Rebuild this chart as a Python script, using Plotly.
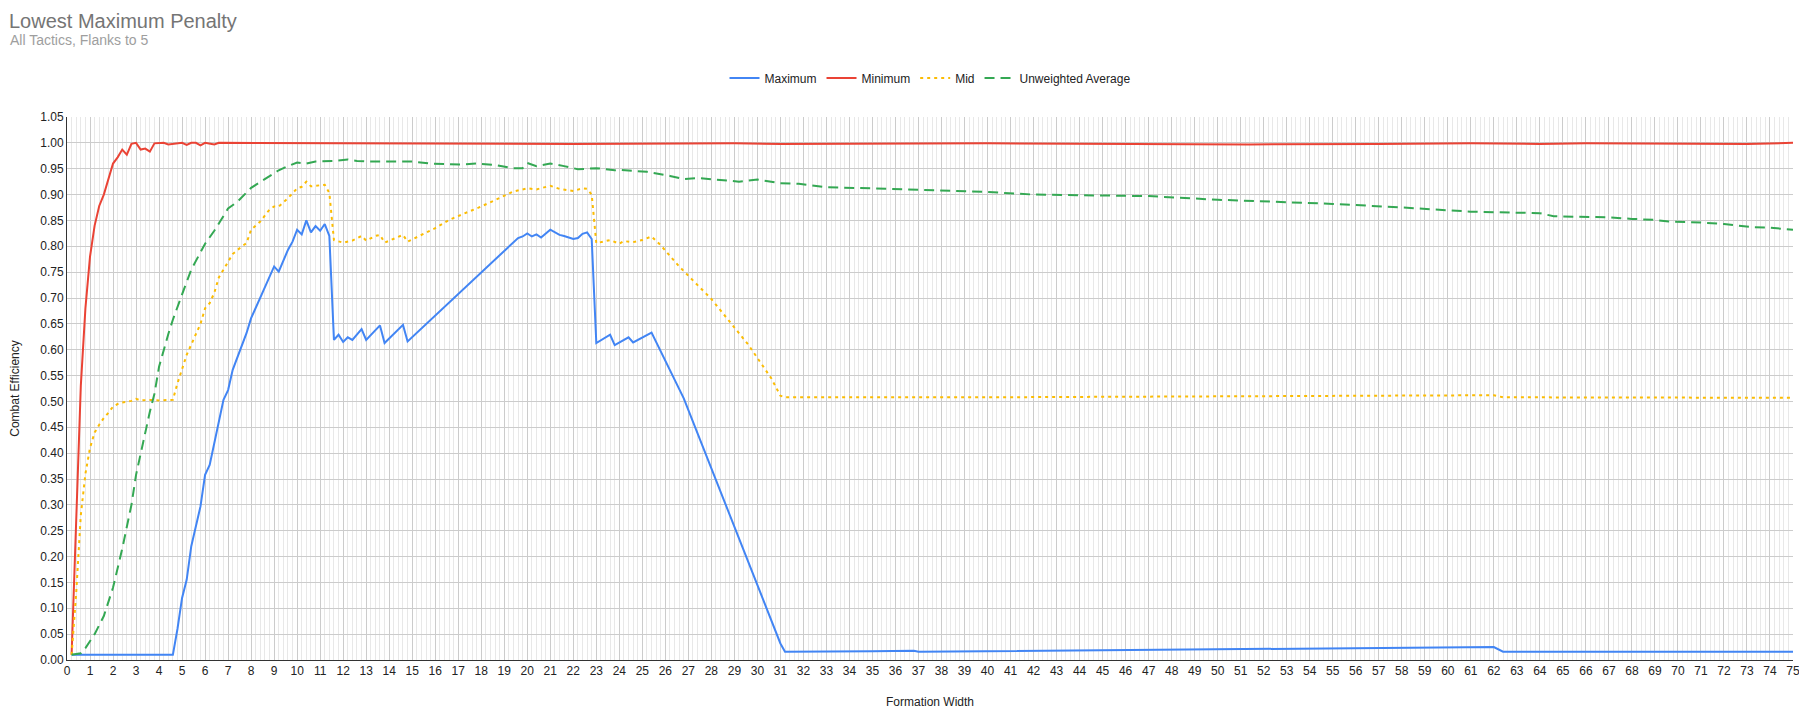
import plotly.graph_objects as go

# ---------------- data ----------------
max_x = [0.2, 4.6, 4.8, 5.0, 5.2, 5.4, 5.8, 6.0, 6.2, 6.6, 6.8, 7.0, 7.2, 7.8, 8.0, 9.0, 9.2, 9.6, 9.8,
         10.0, 10.2, 10.4, 10.6, 10.8, 11.0, 11.2, 11.4, 11.6, 11.8, 12.0, 12.2, 12.4, 12.8, 13.0, 13.6,
         13.8, 14.6, 14.8, 19.6, 19.8, 20.0, 20.2, 20.4, 20.6, 21.0, 21.4, 21.6, 22.0, 22.2, 22.4, 22.6,
         22.8, 23.0, 23.6, 23.8, 24.4, 24.6, 25.4, 26.8, 31.0, 31.2, 35, 36.8, 37.0, 40, 45, 50, 55, 58,
         62, 62.4, 75]
max_y = [0.01, 0.01, 0.06, 0.12, 0.155, 0.22, 0.297, 0.358, 0.377, 0.458, 0.503, 0.522, 0.561, 0.632,
         0.661, 0.761, 0.751, 0.793, 0.809, 0.832, 0.823, 0.850, 0.827, 0.839, 0.830, 0.843, 0.820, 0.619,
         0.629, 0.615, 0.624, 0.619, 0.640, 0.619, 0.647, 0.613, 0.648, 0.616, 0.816, 0.819, 0.825, 0.819,
         0.823, 0.817, 0.832, 0.822, 0.820, 0.814, 0.816, 0.824, 0.827, 0.814, 0.613, 0.629, 0.609, 0.624,
         0.614, 0.633, 0.506, 0.032, 0.016, 0.017, 0.018, 0.016, 0.017, 0.019, 0.021, 0.023, 0.024, 0.025,
         0.016, 0.016]

min_x = [0.2, 0.4, 0.6, 0.8, 1.0, 1.2, 1.4, 1.6, 1.8, 2.0, 2.2, 2.4, 2.6, 2.8, 3.0, 3.2, 3.4, 3.6, 3.8,
         4.0, 4.2, 4.4, 4.6, 4.8, 5.0, 5.2, 5.4, 5.6, 5.8, 6.0, 6.2, 6.4, 6.6, 18.6, 22.0, 29.0, 31.0,
         40.0, 46.0, 51.4, 57.0, 61.0, 64.0, 66.0, 73.0, 75.0]
min_y = [0.01, 0.26, 0.53, 0.68, 0.78, 0.84, 0.878, 0.90, 0.93, 0.96, 0.972, 0.987, 0.977, 0.998, 1.0,
         0.987, 0.989, 0.983, 0.999, 1.0, 1.0, 0.997, 0.998, 1.0, 1.0, 0.996, 1.0, 1.0, 0.995, 1.0, 0.998,
         0.997, 1.0, 0.999, 0.998, 0.999, 0.998, 0.999, 0.998, 0.997, 0.998, 0.999, 0.998, 0.999, 0.998,
         1.0]

mid_x = [0.2, 0.4, 0.6, 0.8, 1.0, 1.2, 1.4, 1.6, 1.8, 2.0, 2.2, 2.4, 2.8, 3.0, 3.2, 3.6, 4.0, 4.6, 4.8,
         5.2, 5.6, 5.8, 6.0, 6.2, 6.4, 6.6, 7.0, 7.2, 7.6, 7.8, 8.0, 8.4, 8.8, 9.0, 9.2, 9.6, 10.0, 10.2,
         10.4, 10.6, 11.2, 11.4, 11.6, 12.0, 12.4, 12.8, 13.0, 13.4, 13.6, 13.8, 14.6, 14.8, 16.0, 16.6,
         18.0, 19.4, 20.0, 20.4, 21.0, 21.4, 22.0, 22.4, 22.6, 22.8, 23.0, 23.6, 24.0, 24.2, 24.6, 25.0,
         25.4, 25.8, 26.6, 28.0, 29.6, 30.6, 31.0, 31.2, 40, 50, 57, 62, 62.4, 75]
mid_y = [0.01, 0.13, 0.28, 0.36, 0.41, 0.44, 0.455, 0.468, 0.478, 0.49, 0.495, 0.498, 0.501, 0.505,
         0.502, 0.503, 0.502, 0.503, 0.535, 0.59, 0.63, 0.65, 0.68, 0.69, 0.71, 0.74, 0.77, 0.785, 0.80,
         0.806, 0.832, 0.848, 0.871, 0.877, 0.877, 0.893, 0.912, 0.915, 0.925, 0.916, 0.919, 0.903, 0.812,
         0.807, 0.811, 0.82, 0.811, 0.82, 0.822, 0.807, 0.822, 0.809, 0.835, 0.851, 0.877, 0.906, 0.912,
         0.91, 0.917, 0.911, 0.907, 0.912, 0.911, 0.90, 0.806, 0.812, 0.805, 0.81, 0.808, 0.812, 0.819,
         0.802, 0.761, 0.698, 0.61, 0.545, 0.511, 0.508, 0.508, 0.51, 0.512, 0.512, 0.508, 0.507]

avg_x = [0.2, 0.6, 0.8, 1.2, 1.6, 2.0, 2.4, 2.8, 3.0, 3.2, 3.6, 3.8, 4.0, 4.4, 4.6, 5.0, 5.4, 6.0, 6.4,
         7.0, 7.4, 8.0, 8.6, 9.2, 9.6, 10.0, 10.4, 10.8, 11.6, 12.2, 12.6, 13.0, 15.0, 15.8, 17.2, 17.8,
         18.6, 19.4, 19.8, 20.0, 20.4, 21.0, 21.6, 22.2, 23.0, 23.8, 24.0, 25.2, 26.2, 26.8, 27.4, 28.0,
         29.2, 30.0, 31.0, 31.8, 33.0, 35, 38, 40, 42, 45, 47, 50, 53, 55, 58, 60, 61, 63, 64, 64.6, 67,
         68, 69, 69.6, 71, 72, 73.2, 74, 75]
avg_y = [0.01, 0.013, 0.023, 0.05, 0.085, 0.14, 0.215, 0.30, 0.358, 0.40, 0.48, 0.515, 0.567, 0.63,
         0.658, 0.707, 0.755, 0.805, 0.83, 0.873, 0.886, 0.913, 0.93, 0.947, 0.955, 0.962, 0.96, 0.964,
         0.965, 0.968, 0.965, 0.964, 0.964, 0.96, 0.958, 0.96, 0.957, 0.951, 0.951, 0.961, 0.955, 0.96,
         0.955, 0.949, 0.951, 0.947, 0.948, 0.944, 0.936, 0.93, 0.932, 0.93, 0.925, 0.929, 0.922, 0.921,
         0.914, 0.912, 0.908, 0.905, 0.90, 0.898, 0.897, 0.89, 0.886, 0.882, 0.875, 0.87, 0.867, 0.865,
         0.864, 0.858, 0.856, 0.853, 0.851, 0.848, 0.846, 0.843, 0.837, 0.836, 0.832]

x_ticks = list(range(0, 76))
y_ticks = [round(i * 0.05, 2) for i in range(0, 22)]

# ---------------- figure ----------------
FONT = "Arial, 'Liberation Sans', sans-serif"
W, H = 1799, 708          # page body has an 8px default margin
L, R, T, B = 59, 14, 109, 56
PW, PH = W - L - R, H - T - B

fig = go.Figure()
fig.add_trace(go.Scatter(x=max_x, y=max_y, name="Maximum", mode="lines",
                         line=dict(color="#4285F4", width=2)))
fig.add_trace(go.Scatter(x=min_x, y=min_y, name="Minimum", mode="lines",
                         line=dict(color="#EA4335", width=2)))
fig.add_trace(go.Scatter(x=mid_x, y=mid_y, name="Mid", mode="lines",
                         line=dict(color="#FBBC04", width=2, dash="3px,4px")))
fig.add_trace(go.Scatter(x=avg_x, y=avg_y, name="Unweighted Average", mode="lines",
                         line=dict(color="#34A853", width=2, dash="10px,6px")))

fig.update_layout(
    width=W, height=H,
    paper_bgcolor="white", plot_bgcolor="white",
    margin=dict(l=L, r=R, t=T, b=B, autoexpand=False),
    font=dict(family=FONT, size=12, color="#222222"),
    showlegend=True,
    legend=dict(orientation="h", x=0.5, xanchor="center", y=1 + (117 - 78) / PH, yanchor="middle",
                font=dict(size=12, color="#222222"), itemwidth=30, bgcolor="rgba(0,0,0,0)"),
    xaxis=dict(range=[0, 75], tickmode="array", tickvals=x_ticks,
               ticktext=[str(v) for v in x_ticks], showgrid=True, gridcolor="#cccccc",
               gridwidth=1, zeroline=False, showline=True, linecolor="#333333", linewidth=1,
               ticks="", tickfont=dict(size=12, color="#222222"),
               minor=dict(dtick=0.2, showgrid=True, gridcolor="#e8e8e8", gridwidth=1),
               title=dict(text="Formation Width", font=dict(size=12, color="#222222"), standoff=20)),
    yaxis=dict(range=[0, 1.05], tickmode="array", tickvals=y_ticks,
               ticktext=[f"{v:.2f}" for v in y_ticks], showgrid=True, gridcolor="#cccccc",
               gridwidth=1, zeroline=False, showline=True, linecolor="#333333", linewidth=1,
               ticks="", tickfont=dict(size=12, color="#222222"),
               title=dict(text="Combat Efficiency", font=dict(size=12, color="#222222"), standoff=18)),
    annotations=[
        dict(text="Lowest Maximum Penalty", xref="paper", yref="paper",
             x=(8 - 67) / PW, y=(652 - 1) / PH, xanchor="left", yanchor="top",
             showarrow=False, borderpad=0, font=dict(size=20, color="#757575", family=FONT)),
        dict(text="All Tactics, Flanks to 5", xref="paper", yref="paper",
             x=(8 - 67) / PW, y=(660 - 40) / PH, xanchor="left", yanchor="middle",
             showarrow=False, font=dict(size=14, color="#9e9e9e", family=FONT)),
    ],
)

fig.write_html("out.html")
